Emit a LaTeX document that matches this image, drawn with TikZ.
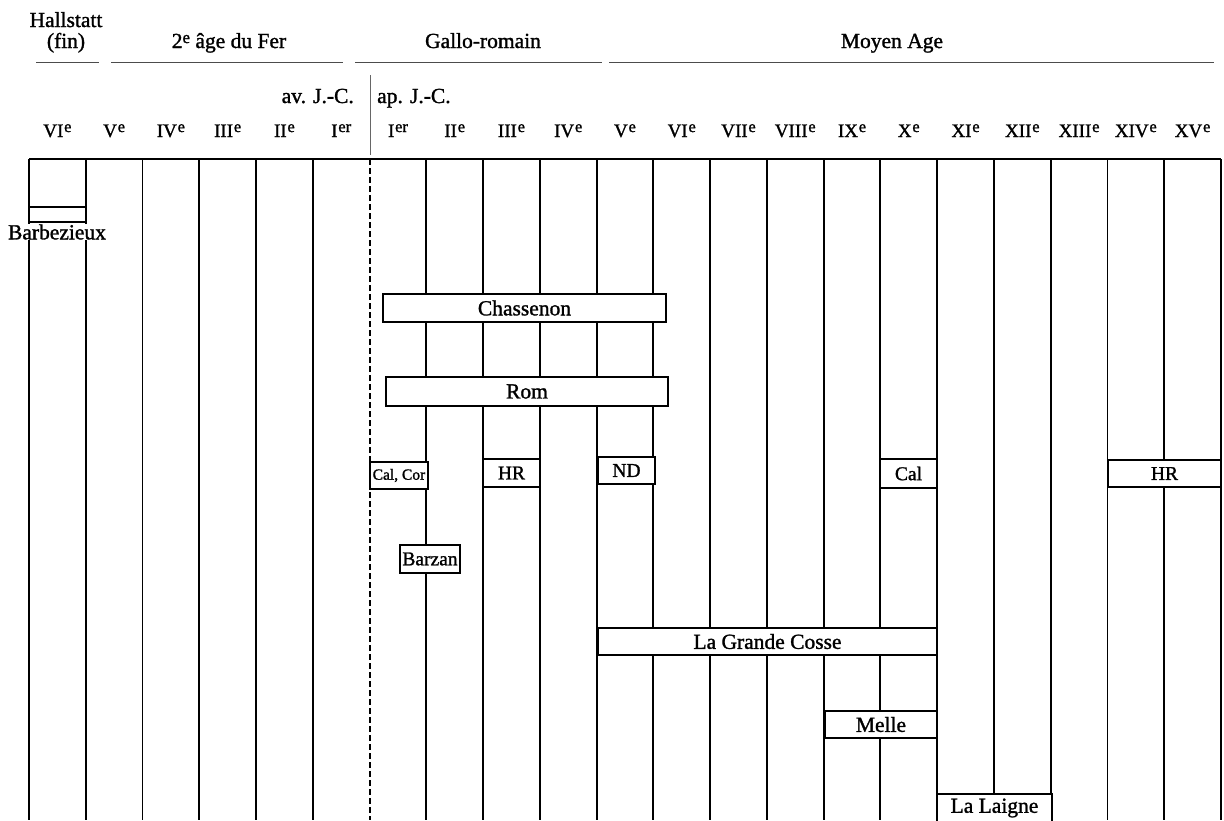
\documentclass[tikz,border=0pt]{standalone}
\usepackage{fontspec}
\setmainfont{Liberation Serif}[FakeBold=1.3]
\newcommand\rnum[2]{{\fontsize{19}{19}\selectfont #1}\kern0.8pt\raisebox{5pt}{\fontsize{16.5}{16.5}\selectfont #2}}
\begin{document}
\begin{tikzpicture}[x=1pt,y=-1pt,
  grid/.style={line width=1.9pt},
  hline/.style={line width=1pt,black!70},
  box/.style={draw,line width=1.9pt,fill=white,inner sep=0pt,outer sep=0pt,anchor=north west},
  big/.style={font=\fontsize{21.5}{21}\selectfont},
  mid/.style={font=\fontsize{19.5}{19}\selectfont},
  small/.style={font=\fontsize{15.5}{16}\selectfont},
  cent/.style={anchor=base,inner sep=0pt}]
\useasboundingbox (0,0) rectangle (1224,820);
% grid
\foreach \i in {0,...,21}{
  \coordinate (t\i) at ({29+56.76*\i},159);
  \coordinate (b\i) at ({29+56.76*\i},820);
}
\foreach \i in {0,1,2,3,4,5,7,8,9,10,11,12,13,14,15,16,17,18,19,20,21}
  \draw[grid] (t\i) -- (b\i);
\draw[line width=2pt,dash pattern=on 6pt off 3pt] (t6) -- (b6);
\draw[grid] (t0) -- (t21);
% header periods
\node[big,anchor=base,inner sep=0pt] (hall) at (66,27) {Hallstatt};
\node[big,anchor=base,inner sep=0pt] (fin) at (66,48) {(fin)};
\node[big,anchor=base,inner sep=0pt] (fer) at (229,48) {2\raisebox{5pt}{\fontsize{17}{17}\selectfont e} âge du Fer};
\node[big,anchor=base,inner sep=0pt] (gallo) at (483,48) {Gallo-romain};
\node[big,anchor=base,inner sep=0pt] (moyen) at (892,48) {Moyen Age};
\coordinate (h1a) at (36,62);  \coordinate (h1b) at (99,62);
\coordinate (h2a) at (111,62); \coordinate (h2b) at (343,62);
\coordinate (h3a) at (355,62); \coordinate (h3b) at (602,62);
\coordinate (h4a) at (609,62); \coordinate (h4b) at (1214,62);
\draw[hline] (h1a) -- (h1b);
\draw[hline] (h2a) -- (h2b);
\draw[hline] (h3a) -- (h3b);
\draw[hline] (h4a) -- (h4b);
% era separator
\coordinate (sa) at (370,75); \coordinate (sb) at (370,155);
\draw[line width=1pt,black!60] (sa) -- (sb);
\node[big,anchor=base east,inner sep=0pt] (av) at (354,103) {av. J.-C.};
\node[big,anchor=base west,inner sep=0pt] (ap) at (377,103) {ap. J.-C.};
% centuries
\foreach \n/\s [count=\i from 0] in {VI/e,V/e,IV/e,III/e,II/e,I/er,I/er,II/e,III/e,IV/e,V/e,VI/e,VII/e,VIII/e,IX/e,X/e,XI/e,XII/e,XIII/e,XIV/e,XV/e}
  \node[cent] (c\i) at ({29+56.76*(\i+0.5)},137) {\rnum{\n}{\s}};
% sites
\node[box,minimum width=57pt,minimum height=15pt] (barb) at (29,207) {};
\node[big,fill=white,inner sep=0.5pt] (barbl) at (57,232) {Barbezieux};
\node[box,big,minimum width=283pt,minimum height=28pt] (chas) at (383,294) {Chassenon};
\node[box,big,minimum width=282pt,minimum height=29pt] (rom) at (386,377) {Rom};
\node[box,small,minimum width=58pt,minimum height=27pt] (calcor) at (370,462) {Cal, Cor};
\node[box,mid,minimum width=57pt,minimum height=28pt] (hra) at (483,459) {HR};
\node[box,mid,minimum width=57pt,minimum height=27pt] (nd) at (598,457) {ND};
\node[box,mid,minimum width=60pt,minimum height=28pt] (barzan) at (400,545) {Barzan};
\node[box,mid,minimum width=57pt,minimum height=29pt] (cal) at (880,459) {Cal};
\node[box,mid,minimum width=113pt,minimum height=27pt] (hrb) at (1108,460) {HR};
\node[box,big,minimum width=339pt,minimum height=27pt] (lgc) at (598,628) {La Grande Cosse};
\node[box,big,minimum width=112pt,minimum height=27pt] (melle) at (825,711) {Melle};
\node[box,big,minimum width=115pt,minimum height=28pt] (laigne) at (937,794) {La Laigne};
\end{tikzpicture}
\end{document}
